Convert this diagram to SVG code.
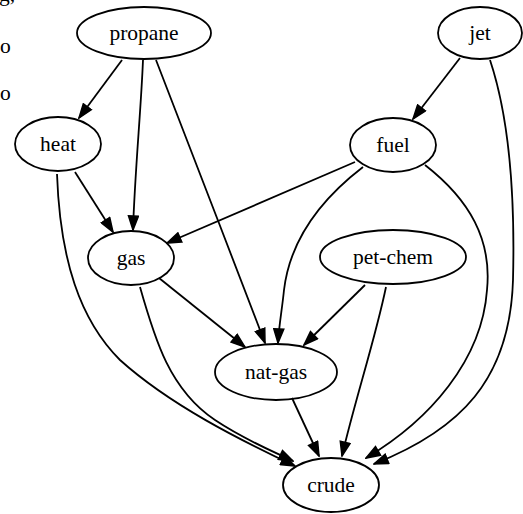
<svg xmlns="http://www.w3.org/2000/svg" width="523" height="514" viewBox="0 0 523 514" font-family="Liberation Serif, Times New Roman, serif">
<style>
.node ellipse{fill:none;stroke:#000;stroke-width:1.8}
text{font-family:'Liberation Serif',serif;font-size:21.5px;fill:#000}
.node text{text-anchor:middle}
#edges path{fill:none;stroke:#000;stroke-width:1.8;marker-end:url(#arr)}
</style>
<defs>
<marker id="arr" markerUnits="userSpaceOnUse" viewBox="0 0 16 12" markerWidth="16" markerHeight="12" refX="15" refY="6" orient="auto">
<path d="M1,1 L15,6 L1,11 z" fill="#000" stroke="#000" stroke-width="1.5"/>
</marker>
</defs>
<rect width="523" height="514" fill="#fff"/>
<text x="-1" y="1">g,</text>
<text x="0" y="53">o</text>
<text x="0" y="100">o</text>
<g id="edges">
<path d="M122,60 L79,118"/>
<path d="M143,60 C141,110 135,170 133,230"/>
<path d="M156,60 C190,150 230,250 265,343"/>
<path d="M75,172 L113,232"/>
<path d="M57,174 C60,260 80,320 120,360 C170,405 240,440 295,466"/>
<path d="M140,287 C155,340 170,390 215,420 C245,440 270,450 293,461"/>
<path d="M159,278 L245,347"/>
<path d="M355,162 L167,243"/>
<path d="M363,167 C320,200 290,240 284,290 C282,310 279,325 278,343"/>
<path d="M425,165 C470,200 492,240 487,290 C482,360 430,420 366,458"/>
<path d="M460,58 L413,119"/>
<path d="M490,60 C510,120 515,200 513,280 C510,380 460,430 374,464"/>
<path d="M365,285 L304,345"/>
<path d="M386,287 C375,340 355,400 342,456"/>
<path d="M292,398 L319,456"/>
</g>
<g id="propane" class="node"><ellipse cx="144" cy="33" rx="67" ry="26"/><text x="144" y="40">propane</text></g>
<g id="jet" class="node"><ellipse cx="480" cy="33" rx="42" ry="26"/><text x="480" y="40">jet</text></g>
<g id="heat" class="node"><ellipse cx="58" cy="144" rx="43" ry="27"/><text x="58" y="151">heat</text></g>
<g id="fuel" class="node"><ellipse cx="393" cy="145" rx="43" ry="27"/><text x="393" y="152">fuel</text></g>
<g id="gas" class="node"><ellipse cx="131" cy="258" rx="43" ry="27"/><text x="131" y="265">gas</text></g>
<g id="pet-chem" class="node"><ellipse cx="393" cy="257" rx="73" ry="27"/><text x="393" y="264">pet-chem</text></g>
<g id="nat-gas" class="node"><ellipse cx="276" cy="372" rx="61" ry="28"/><text x="276" y="379">nat-gas</text></g>
<g id="crude" class="node"><ellipse cx="331" cy="485" rx="48" ry="27"/><text x="331" y="492">crude</text></g>
</svg>
